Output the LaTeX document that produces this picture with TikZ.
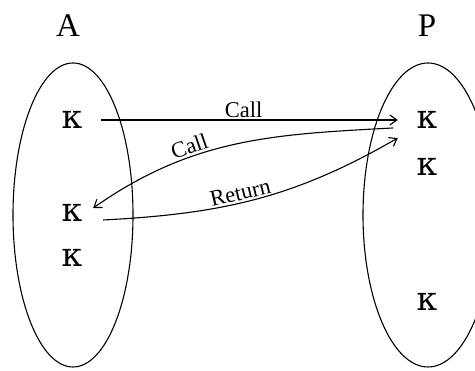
\documentclass[tikz,border=0pt]{standalone}
\usepackage{fontspec}
\setmainfont{Liberation Serif}
\newfontfamily\kapfont{DejaVu Serif}
\usetikzlibrary{arrows.meta}

\begin{document}
\begin{tikzpicture}[x=1pt,y=1pt]
  % Styles
  \tikzset{
    kap/.style={font=\kapfont\fontsize{33}{33}\selectfont, inner sep=0pt, minimum width=58pt, minimum height=16pt},
    titre/.style={font=\fontsize{33}{33}\selectfont, inner sep=0pt},
    lbl/.style={font=\fontsize{22.5}{22.5}\selectfont, sloped, above, inner sep=2pt},
    fl/.style={line width=1.1pt, >={Straight Barb[length=7pt,width=10pt]}},
  }

  % Cadre
  \useasboundingbox (0,0) rectangle (475,371);
  \clip (0,0) rectangle (475,371);

  % Ensembles
  \draw[line width=1.1pt] (73,156) ellipse (60pt and 152pt);
  \draw[line width=1.1pt] (428,156) ellipse (65pt and 152pt);

  % Titres
  \node[titre] (A) at (68,345) {A};
  \node[titre] (P) at (427,345) {P};

  % Elements
  \foreach \n/\y in {1/251, 2/158, 3/113}
    \node[kap] (a\n) at (72,\y) {κ};
  \foreach \n/\y in {1/251, 2/204, 3/69}
    \node[kap] (p\n) at (427,\y) {κ};

  % Fleches
  \draw[fl, ->] (a1.east) -- (p1.west) node[lbl, pos=0.48] {Call};
  \draw[fl, <-] ([xshift=-8pt,yshift=5pt]a2.east) to[out=35, in=183]
    node[lbl, pos=0.35] {Call} ([xshift=-5pt,yshift=-8pt]p1.west);
  \draw[fl, ->] ([xshift=2pt,yshift=-7pt]a2.east) to[out=3, in=210]
    node[lbl, pos=0.45] {Return} ([yshift=-18pt]p1.west);

\end{tikzpicture}
\end{document}
